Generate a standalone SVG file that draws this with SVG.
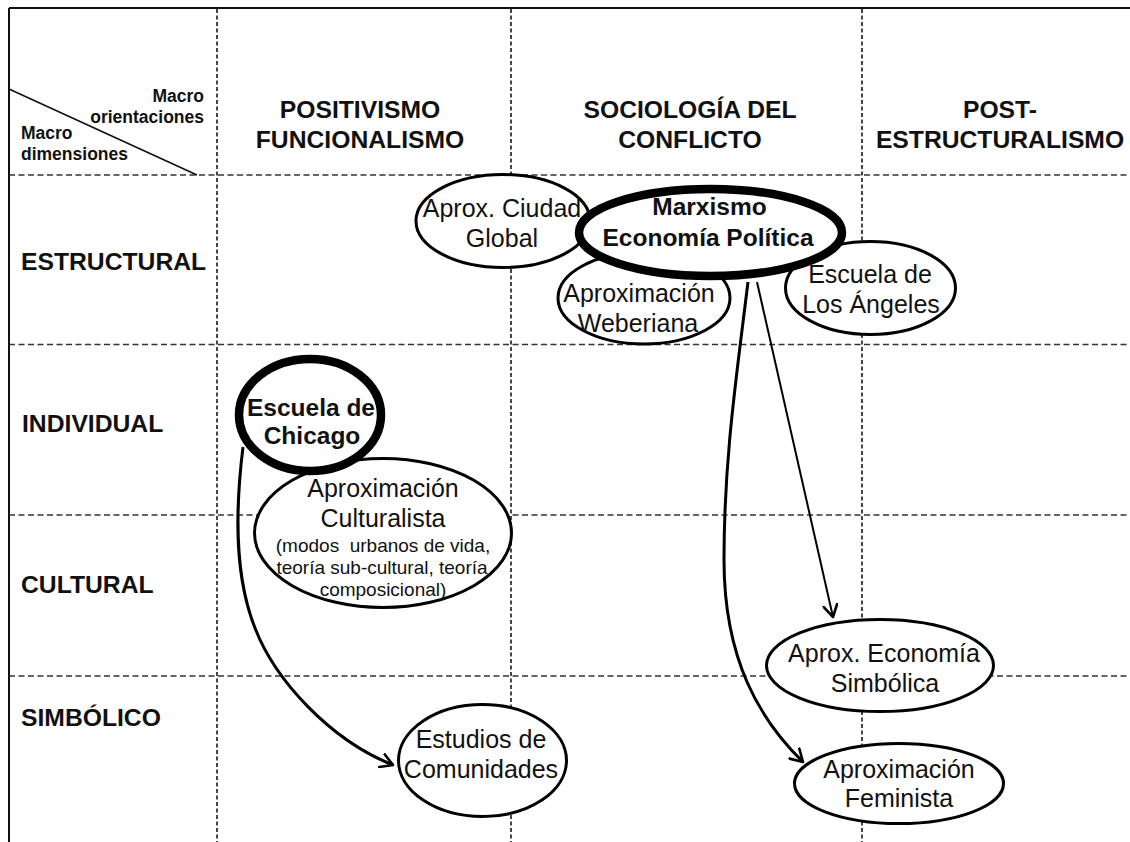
<svg xmlns="http://www.w3.org/2000/svg" width="1130" height="842" viewBox="0 0 1130 842">
<style>
text{font-family:"Liberation Sans",Arial,sans-serif;fill:#111}
.hdr{font-size:24.7px;font-weight:bold;text-anchor:middle}
.row{font-size:24.7px;font-weight:bold}
.sm{font-size:17.5px;font-weight:bold}
.lbl{font-size:25px;text-anchor:middle}
.blbl{font-size:24.5px;font-weight:bold;text-anchor:middle}
.tiny{font-size:19px;text-anchor:middle;white-space:pre}
.node{fill:#fff;stroke:#000;stroke-width:3}
.thick{fill:#fff;stroke:#000;stroke-width:8.5}
.hd{stroke:#333;stroke-width:1.6;stroke-dasharray:6 3.5;fill:none}
.vd{stroke:#333;stroke-width:1.8;stroke-dasharray:4 2.5;fill:none}
.edge{fill:none;stroke:#000}
</style>
<defs>
<marker id="arr" markerUnits="userSpaceOnUse" markerWidth="16" markerHeight="16" viewBox="0 0 16 16" refX="13" refY="8" orient="auto">
<path d="M1,1 L13,8 L1,15" fill="none" stroke="#000" stroke-width="2.6" stroke-linecap="round" stroke-linejoin="round"/>
</marker>
</defs>
<rect width="1130" height="842" fill="#fff"/>
<g id="grid">
<line x1="9" y1="8" x2="1130" y2="8" stroke="#111" stroke-width="2"/>
<line x1="9" y1="8" x2="9" y2="842" stroke="#111" stroke-width="2"/>
<line class="hd" x1="9" y1="175" x2="1130" y2="175"/>
<line class="hd" x1="9" y1="344.5" x2="1130" y2="344.5"/>
<line class="hd" x1="9" y1="515" x2="1130" y2="515"/>
<line class="hd" x1="9" y1="676" x2="1130" y2="676"/>
<line class="vd" x1="217" y1="9" x2="217" y2="842"/>
<line class="vd" x1="511" y1="9" x2="511" y2="842"/>
<line class="vd" x1="862" y1="9" x2="862" y2="842"/>
<line x1="9" y1="89" x2="197" y2="175" stroke="#111" stroke-width="1.6"/>
</g>
<g id="headers">
<text class="sm" x="204" y="102" text-anchor="end">Macro</text>
<text class="sm" x="204" y="123" text-anchor="end">orientaciones</text>
<text class="sm" x="21" y="139">Macro</text>
<text class="sm" x="21" y="160">dimensiones</text>
<text class="hdr" x="360" y="118">POSITIVISMO</text>
<text class="hdr" x="360" y="148">FUNCIONALISMO</text>
<text class="hdr" x="690" y="118">SOCIOLOGÍA DEL</text>
<text class="hdr" x="690" y="148">CONFLICTO</text>
<text class="hdr" x="1000" y="118">POST-</text>
<text class="hdr" x="1000" y="148">ESTRUCTURALISMO</text>
<text class="row" x="21" y="270">ESTRUCTURAL</text>
<text class="row" x="22" y="432">INDIVIDUAL</text>
<text class="row" x="21" y="593">CULTURAL</text>
<text class="row" x="21" y="726">SIMBÓLICO</text>
</g>
<g id="n-ciudad">
<ellipse class="node" cx="503" cy="221" rx="87" ry="46.5"/>
<text class="lbl" x="502" y="217">Aprox. Ciudad</text>
<text class="lbl" x="502" y="247">Global</text>
</g>
<g id="n-weber">
<ellipse class="node" cx="644" cy="298" rx="86" ry="46"/>
<text class="lbl" x="639" y="302">Aproximación</text>
<text class="lbl" x="638" y="332">Weberiana</text>
</g>
<g id="n-angeles">
<ellipse class="node" cx="870.5" cy="288" rx="85" ry="46.5"/>
<text class="lbl" x="870" y="283">Escuela de</text>
<text class="lbl" x="871" y="313">Los Ángeles</text>
</g>
<g id="n-marx">
<ellipse class="thick" cx="710.5" cy="232.5" rx="131.5" ry="43.5"/>
<text class="blbl" x="709.5" y="215">Marxismo</text>
<text class="blbl" x="708" y="246">Economía Política</text>
</g>
<g id="n-cultur">
<ellipse class="node" cx="383" cy="533" rx="128.5" ry="74.5"/>
<text class="lbl" x="383" y="497">Aproximación</text>
<text class="lbl" x="383" y="527">Culturalista</text>
<text class="tiny" x="383" y="552">(modos  urbanos de vida,</text>
<text class="tiny" x="382" y="574">teoría sub-cultural, teoría</text>
<text class="tiny" x="383" y="596">composicional)</text>
</g>
<g id="n-chicago">
<ellipse class="thick" cx="310" cy="415" rx="71" ry="56"/>
<text class="blbl" x="311" y="416">Escuela de</text>
<text class="blbl" x="312" y="444">Chicago</text>
</g>
<g id="n-estudios">
<ellipse class="node" cx="482.5" cy="760.5" rx="84" ry="56"/>
<text class="lbl" x="481" y="748">Estudios de</text>
<text class="lbl" x="481" y="778">Comunidades</text>
</g>
<g id="n-simbolica">
<ellipse class="node" cx="880" cy="665.5" rx="113.5" ry="46"/>
<text class="lbl" x="884" y="662">Aprox. Economía</text>
<text class="lbl" x="885" y="692">Simbólica</text>
</g>
<g id="n-feminista">
<ellipse class="node" cx="899" cy="783.5" rx="104.5" ry="40"/>
<text class="lbl" x="899" y="778">Aproximación</text>
<text class="lbl" x="899" y="807">Feminista</text>
</g>
<g id="connectors">
<path class="edge" stroke-width="3" d="M243,447 C234,520 236,580 255,628 C275,680 330,740 393,765" marker-end="url(#arr)"/>
<path class="edge" stroke-width="3" d="M748,282 C736,380 724,460 724,560 C724,660 760,720 803,762" marker-end="url(#arr)"/>
<path class="edge" stroke-width="2" d="M757,282 L833,617" marker-end="url(#arr)"/>
</g>
</svg>
